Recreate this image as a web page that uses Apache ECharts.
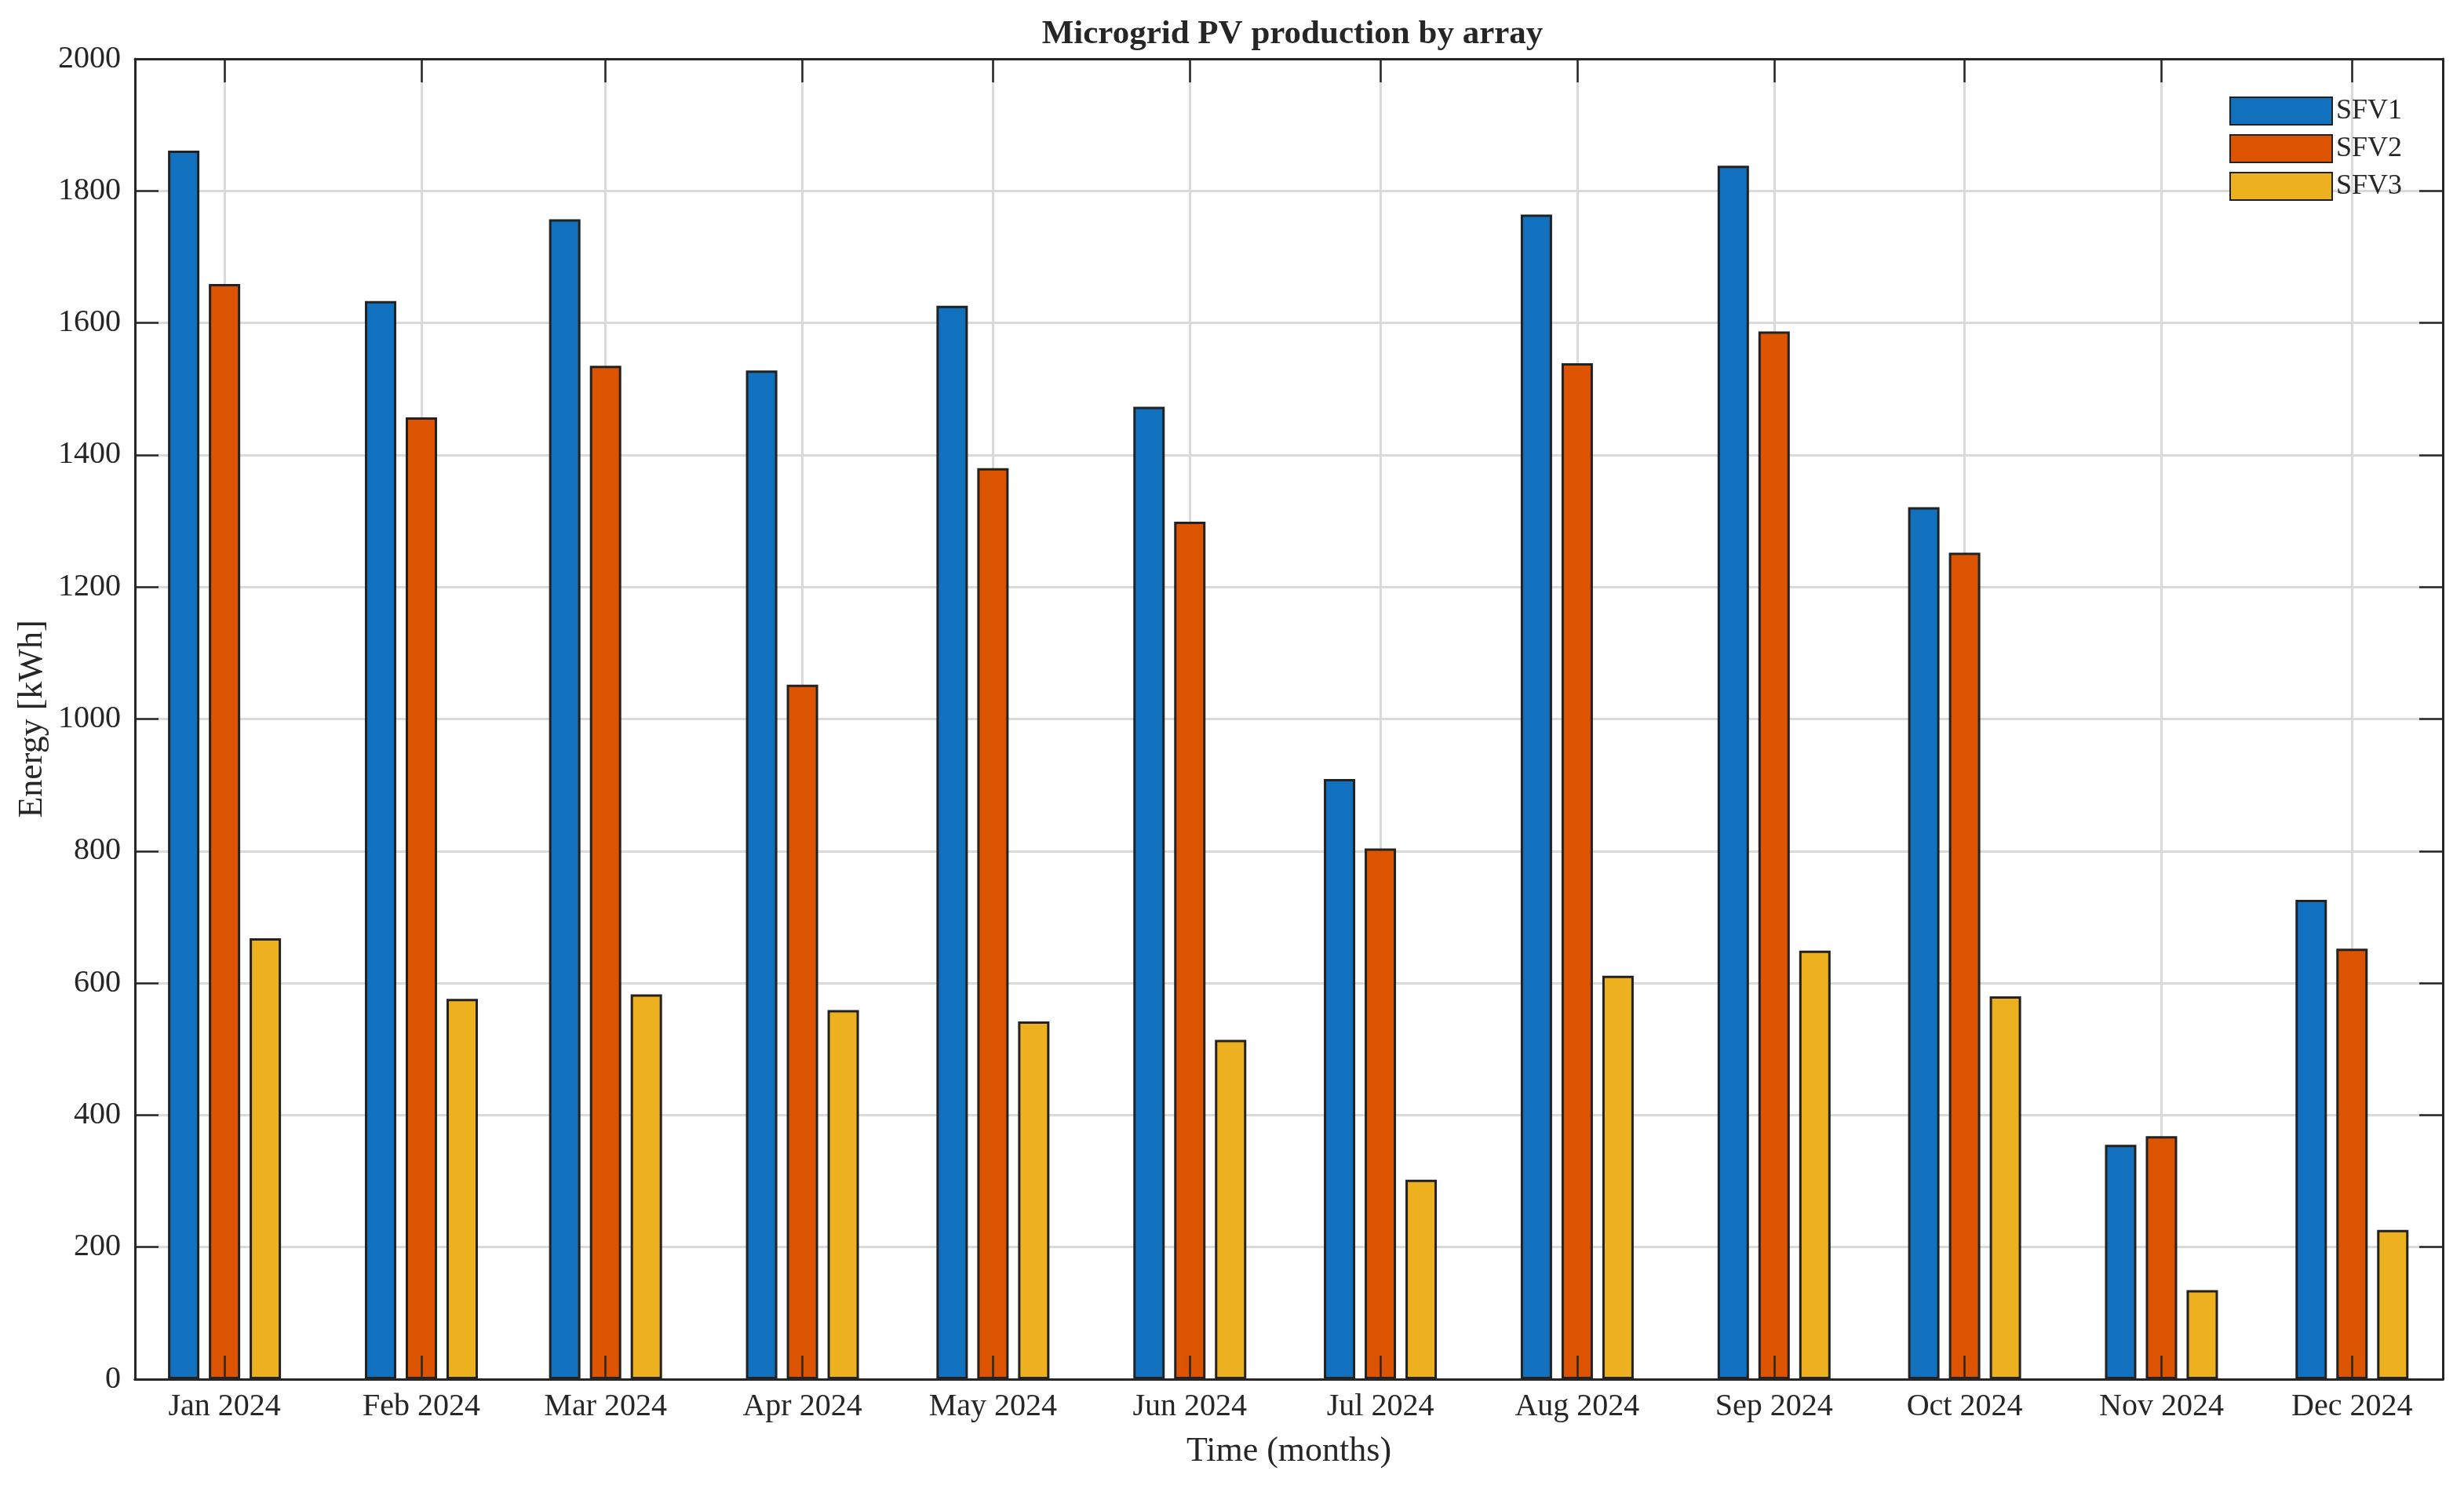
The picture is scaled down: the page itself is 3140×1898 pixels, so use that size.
<!DOCTYPE html>
<html>
<head>
<meta charset="utf-8">
<script src="https://cdn.jsdelivr.net/npm/echarts@6/dist/echarts.min.js"></script>
<style>html,body{margin:0;padding:0;background:#fff}#chart{width:3140px;height:1898px}</style>
</head>
<body>
<div id="chart"></div>
<script>
const months = ['Jan 2024','Feb 2024','Mar 2024','Apr 2024','May 2024','Jun 2024','Jul 2024','Aug 2024','Sep 2024','Oct 2024','Nov 2024','Dec 2024'];
const sfv1 = [1861,1633,1757,1528,1626,1473,909,1764,1838,1321,355,726];
const sfv2 = [1659,1457,1535,1052,1380,1299,804,1539,1587,1252,368,652];
const sfv3 = [668,576,583,559,542,514,302,611,649,580,135,226];
const seriesNames = ['SFV1','SFV2','SFV3'];
const yMin = 0, yMax = 2000, yStep = 200;

const DAY = 86400000;
const T0 = Date.UTC(2024, 0, 1);
// x positions in days since 1 Jan 2024 (first day of each month)
const monthStarts = months.map((m, i) => (Date.UTC(2024, i, 1) - T0) / DAY);
const xMin = monthStarts[0] - 14.1;
const xMax = monthStarts[11] + 14.3;

const FONT = 'Liberation Serif';
const INK = '#262626';
const colors = ['#1171BE', '#DD5400', '#EDB120'];
const GRID = '#dadada';

function fmt(v) {
  const i = monthStarts.indexOf(Math.round(v));
  return i >= 0 ? months[i] : '';
}

const chart = echarts.init(document.getElementById('chart'), null, {renderer: 'canvas'});

const baseX = {type: 'value', min: xMin, max: xMax, gridIndex: 0, scale: true};

chart.setOption({
  animation: false,
  backgroundColor: '#ffffff',
  textStyle: {fontFamily: FONT, color: INK},
  title: {
    text: 'Microgrid PV production by array',
    left: 1642, top: 17, textAlign: 'center',
    textStyle: {fontFamily: FONT, fontWeight: 'bold', fontSize: 43, color: INK}
  },
  legend: {
    orient: 'vertical', left: 2836, top: 118,
    itemWidth: 130, itemHeight: 35, itemGap: 11,
    icon: 'rect',
    data: seriesNames,
    textStyle: {fontFamily: FONT, fontSize: 36, color: INK}
  },
  grid: {left: 172, right: 27, top: 75, bottom: 140, containLabel: false},
  xAxis: [
    Object.assign({}, baseX, {
      position: 'bottom',
      name: 'Time (months)', nameLocation: 'middle', nameGap: 70,
      nameTextStyle: {fontFamily: FONT, fontSize: 44, color: INK},
      axisLine: {show: true, onZero: false, lineStyle: {color: INK, width: 3}},
      axisTick: {show: false, customValues: monthStarts},
      axisLabel: {show: true, customValues: monthStarts, formatter: fmt, margin: 15,
        fontFamily: FONT, fontSize: 40, color: INK, showMinLabel: true, showMaxLabel: true},
      splitLine: {show: true, lineStyle: {color: GRID, width: 3}}
    }),
    Object.assign({}, baseX, {
      position: 'bottom', z: 10,
      axisLine: {show: true, onZero: false, lineStyle: {color: INK, width: 3}},
      axisTick: {show: true, inside: true, length: 30, customValues: monthStarts, lineStyle: {color: INK, width: 2.5}},
      axisLabel: {show: false},
      splitLine: {show: false}
    }),
    Object.assign({}, baseX, {
      position: 'top', z: 10,
      axisLine: {show: true, onZero: false, lineStyle: {color: INK, width: 3}},
      axisTick: {show: true, inside: true, length: 30, customValues: monthStarts, lineStyle: {color: INK, width: 2.5}},
      axisLabel: {show: false},
      splitLine: {show: false}
    })
  ],
  yAxis: [
    {
      type: 'value', min: yMin, max: yMax, interval: yStep, position: 'left',
      name: 'Energy [kWh]', nameLocation: 'middle', nameGap: 100,
      nameTextStyle: {fontFamily: FONT, fontSize: 44, color: INK},
      axisLine: {show: true, onZero: false, lineStyle: {color: INK, width: 3}},
      axisTick: {show: true, inside: true, length: 30, lineStyle: {color: INK, width: 2.5}},
      axisLabel: {margin: 18, fontFamily: FONT, fontSize: 40, color: INK, formatter: v => String(v)},
      splitLine: {show: true, lineStyle: {color: GRID, width: 3}}
    },
    {
      type: 'value', min: yMin, max: yMax, interval: yStep, position: 'right', z: 10,
      axisLine: {show: true, onZero: false, lineStyle: {color: INK, width: 3}},
      axisTick: {show: true, inside: true, length: 30, lineStyle: {color: INK, width: 2.5}},
      axisLabel: {show: false},
      splitLine: {show: false}
    }
  ],
  series: [sfv1, sfv2, sfv3].map((vals, k) => ({
    name: seriesNames[k],
    type: 'bar',
    xAxisIndex: 0, yAxisIndex: 0,
    barWidth: 40,
    barGap: '30%',
    itemStyle: {color: colors[k], borderColor: '#222222', borderWidth: 3},
    data: vals.map((v, i) => [monthStarts[i], v])
  }))
});
</script>
</body>
</html>
